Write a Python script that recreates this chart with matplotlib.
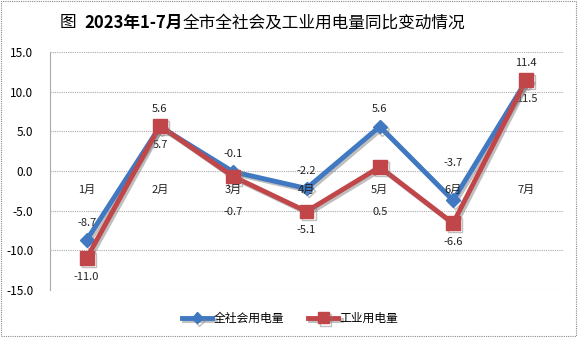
import matplotlib
matplotlib.use('Agg')
import matplotlib.pyplot as plt
import matplotlib.patheffects as pe
from matplotlib.patches import Rectangle

plt.rcParams['font.family'] = ['Noto Sans CJK SC', 'DejaVu Sans']

months = ['1月', '2月', '3月', '4月', '5月', '6月', '7月']
total = [-8.7, 5.6, -0.1, -2.2, 5.6, -3.7, 11.4]
industry = [-11.0, 5.7, -0.7, -5.1, 0.5, -6.6, 11.5]
yticks = [-15, -10, -5, 0, 5, 10, 15]

blue = '#4079C2'
red = '#C0464A'

fig = plt.figure(figsize=(5.78, 3.37), dpi=100)
ax = fig.add_axes([50 / 578, 47 / 337, 513 / 578, 238 / 337])

x = list(range(len(months)))
shadow = [pe.SimpleLineShadow(offset=(1.5, -1.5), shadow_color='gray', alpha=0.5), pe.Normal()]
ax.plot(x, total, color=blue, lw=3.5, marker='D', ms=7, label='全社会用电量',
        path_effects=shadow, zorder=3)
ax.plot(x, industry, color=red, lw=3.5, marker='s', ms=10, label='工业用电量',
        path_effects=shadow, zorder=4)

for i in x:
    # labels that would hit the month label get pushed past it, like excel does
    if -5 < total[i] < -3:
        ax.annotate('%.1f' % total[i], (i, 0), xytext=(0, 6), textcoords='offset points',
                    ha='center', va='center', fontsize=8, color='#222222')
    else:
        ax.annotate('%.1f' % total[i], (i, total[i]), xytext=(0, 9), textcoords='offset points',
                    ha='center', va='bottom', fontsize=8, color='#222222')
    if abs(industry[i]) < 2:
        ax.annotate('%.1f' % industry[i], (i, 0), xytext=(0, -26), textcoords='offset points',
                    ha='center', va='top', fontsize=8, color='#222222')
    else:
        ax.annotate('%.1f' % industry[i], (i, industry[i]), xytext=(0, -10), textcoords='offset points',
                    ha='center', va='top', fontsize=8, color='#222222')
    ax.annotate(months[i], (i, 0), xytext=(0, -10), textcoords='offset points',
                ha='center', va='top', fontsize=8, color='#222222', zorder=5)

ax.set_xlim(-0.5, 6.5)
ax.set_ylim(-15, 15)
ax.set_yticks(yticks)
ax.set_yticklabels(['%.1f' % v for v in yticks], fontsize=8.5)
ax.set_xticks([])
ax.tick_params(axis='y', length=0, pad=12)
ax.grid(axis='y', color='#AAAAAA', ls=(0, (1, 1)), lw=0.8)
for s in ['top', 'right', 'bottom']:
    ax.spines[s].set_visible(False)
ax.spines['left'].set_color('#AAAAAA')

# title in three pieces: the date part is bold
ty = 1 - 23 / 337
t1 = fig.text(60 / 578, ty, '图  ', ha='left', va='center', fontsize=12)
t2 = fig.text(0, 0, '2023年1-7月', fontsize=12, fontweight='bold', va='center', ha='left')
t3 = fig.text(0, 0, '全市全社会及工业用电量同比变动情况', fontsize=12, va='center', ha='left')
fig.canvas.draw()
r = fig.canvas.get_renderer()
bb = t1.get_window_extent(r)
t2.set_position((bb.x1 / fig.bbox.width, ty))
fig.canvas.draw()
bb = t2.get_window_extent(r)
t3.set_position((bb.x1 / fig.bbox.width, ty))

ax.legend(loc='center', bbox_to_anchor=(0.468, -0.12), ncol=2, frameon=False, fontsize=8.5,
          handlelength=2.6, columnspacing=2.0, handletextpad=0.1, markerscale=0.8)

fig.patches.append(Rectangle((0.002, 0.003), 0.995, 0.994, transform=fig.transFigure, fill=False,
                             ec='#888888', lw=0.8, ls=(0, (1, 1))))

fig.savefig('out.png', dpi=100)
